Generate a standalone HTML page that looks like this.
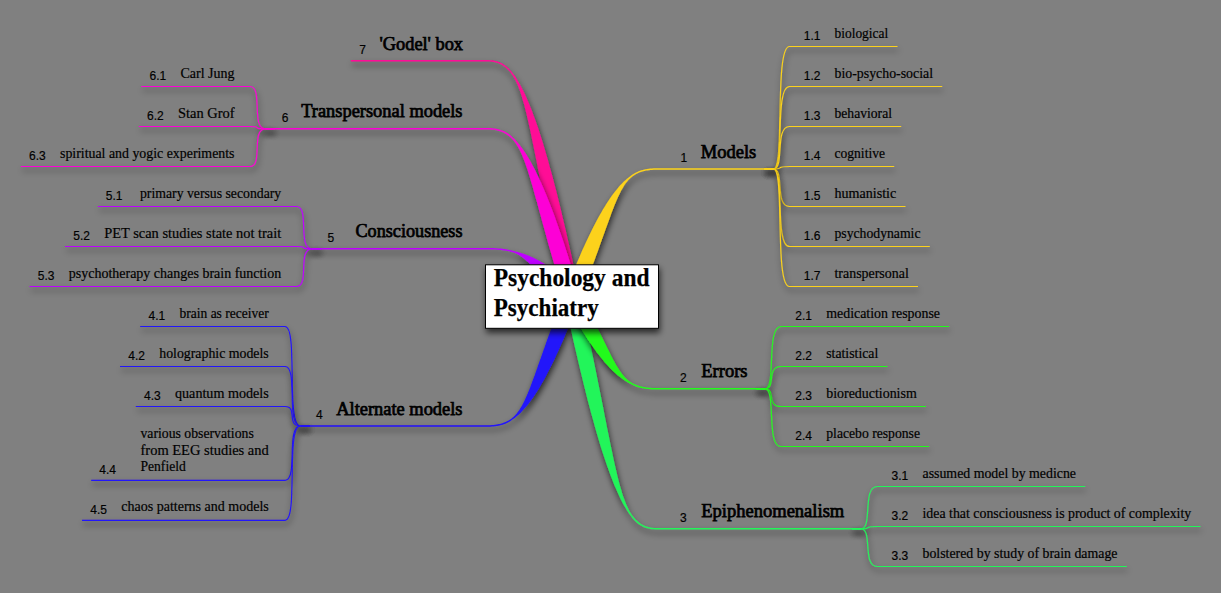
<!DOCTYPE html>
<html lang="en"><head><meta charset="utf-8"><title>Psychology and Psychiatry</title>
<style>
html,body{margin:0;padding:0;background:#808080;}
body{width:1221px;height:593px;overflow:hidden;position:relative;}
svg{position:absolute;left:0;top:0;display:block;}
text{fill:#000;}
.s{font-family:"Liberation Serif",serif;font-size:14.5px;stroke:#000;stroke-width:.2px;}
.m{font-family:"Liberation Serif",serif;font-size:19px;stroke:#000;stroke-width:.75px;}
.n{font-family:"Liberation Sans",sans-serif;font-size:12px;stroke:#000;stroke-width:.18px;}
.c{font-family:"Liberation Serif",serif;font-size:25.5px;font-weight:bold;stroke:#000;stroke-width:.25px;}
.b path{fill:none;stroke-width:1.15;stroke-linecap:butt;}
</style></head><body>
<svg width="1221" height="593" viewBox="0 0 1221 593">
<defs>
<filter id="sh" x="-20%" y="-20%" width="140%" height="140%" filterUnits="objectBoundingBox">
<feGaussianBlur in="SourceAlpha" stdDeviation="3"/><feOffset dx="1.3" dy="4" result="b"/>
<feComponentTransfer><feFuncA type="linear" slope="0.68"/></feComponentTransfer>
<feMerge><feMergeNode/><feMergeNode in="SourceGraphic"/></feMerge></filter>
<filter id="shl" x="-50" y="-50" width="1400" height="700" filterUnits="userSpaceOnUse">
<feGaussianBlur in="SourceAlpha" stdDeviation="3"/><feOffset dx="1.3" dy="4" result="b"/>
<feComponentTransfer><feFuncA type="linear" slope="0.68"/></feComponentTransfer>
<feMerge><feMergeNode/><feMergeNode in="SourceGraphic"/></feMerge></filter>
</defs>
<g class="b" stroke="#FD05D6">
<path filter="url(#shl)" d="M274.5,128.8 L265.5,128.8 C250.5,128.8 263.5,86.5 250.0,86.5 L141.2,86.5"/>
<path filter="url(#shl)" d="M274.5,128.8 L265.5,128.8 C250.5,128.8 263.5,126.5 250.0,126.5 L138.8,126.5"/>
<path filter="url(#shl)" d="M274.5,128.8 L265.5,128.8 C250.5,128.8 263.5,166.5 250.0,166.5 L20.8,166.5"/>
</g>
<g class="b" stroke="#BE00FF">
<path filter="url(#shl)" d="M321.0,248.8 L312.0,248.8 C297.0,248.8 310.0,206.5 296.5,206.5 L97.8,206.5"/>
<path filter="url(#shl)" d="M321.0,248.8 L312.0,248.8 C297.0,248.8 310.0,246.5 296.5,246.5 L65.0,246.5"/>
<path filter="url(#shl)" d="M321.0,248.8 L312.0,248.8 C297.0,248.8 310.0,286.5 296.5,286.5 L29.5,286.5"/>
</g>
<g class="b" stroke="#2314FA">
<path filter="url(#shl)" d="M309.5,426.0 L300.5,426.0 C285.5,426.0 298.5,326.5 285.0,326.5 L140.2,326.5"/>
<path filter="url(#shl)" d="M309.5,426.0 L300.5,426.0 C285.5,426.0 298.5,366.5 285.0,366.5 L120.0,366.5"/>
<path filter="url(#shl)" d="M309.5,426.0 L300.5,426.0 C285.5,426.0 298.5,406.5 285.0,406.5 L135.8,406.5"/>
<path filter="url(#shl)" d="M309.5,426.0 L300.5,426.0 C285.5,426.0 298.5,480.3 285.0,480.3 L91.2,480.3"/>
<path filter="url(#shl)" d="M309.5,426.0 L300.5,426.0 C285.5,426.0 298.5,520.3 285.0,520.3 L82.0,520.3"/>
</g>
<g class="b" stroke="#23F55A">
<path filter="url(#shl)" d="M852.2,528.8 L861.2,528.8 C872.8,528.8 862.0,486.5 877.2,486.5 L1085.2,486.5"/>
<path filter="url(#shl)" d="M852.2,528.8 L861.2,528.8 C872.8,528.8 862.0,526.5 877.2,526.5 L1200.5,526.5"/>
<path filter="url(#shl)" d="M852.2,528.8 L861.2,528.8 C872.8,528.8 862.0,566.5 877.2,566.5 L1126.8,566.5"/>
</g>
<g class="b" stroke="#23FA1E">
<path filter="url(#shl)" d="M756.0,388.8 L765.0,388.8 C776.5,388.8 765.7,326.5 781.0,326.5 L949.2,326.5"/>
<path filter="url(#shl)" d="M756.0,388.8 L765.0,388.8 C776.5,388.8 765.7,366.5 781.0,366.5 L887.5,366.5"/>
<path filter="url(#shl)" d="M756.0,388.8 L765.0,388.8 C776.5,388.8 765.7,406.5 781.0,406.5 L926.0,406.5"/>
<path filter="url(#shl)" d="M756.0,388.8 L765.0,388.8 C776.5,388.8 765.7,446.5 781.0,446.5 L929.2,446.5"/>
</g>
<g class="b" stroke="#FCD21A">
<path filter="url(#shl)" d="M764.5,169.0 L773.5,169.0 C785.0,169.0 774.2,46.5 789.5,46.5 L897.5,46.5"/>
<path filter="url(#shl)" d="M764.5,169.0 L773.5,169.0 C785.0,169.0 774.2,86.5 789.5,86.5 L942.2,86.5"/>
<path filter="url(#shl)" d="M764.5,169.0 L773.5,169.0 C785.0,169.0 774.2,126.5 789.5,126.5 L901.2,126.5"/>
<path filter="url(#shl)" d="M764.5,169.0 L773.5,169.0 C785.0,169.0 774.2,166.5 789.5,166.5 L894.2,166.5"/>
<path filter="url(#shl)" d="M764.5,169.0 L773.5,169.0 C785.0,169.0 774.2,206.5 789.5,206.5 L905.5,206.5"/>
<path filter="url(#shl)" d="M764.5,169.0 L773.5,169.0 C785.0,169.0 774.2,246.5 789.5,246.5 L929.8,246.5"/>
<path filter="url(#shl)" d="M764.5,169.0 L773.5,169.0 C785.0,169.0 774.2,286.5 789.5,286.5 L918.0,286.5"/>
</g>
<path filter="url(#shl)" fill="#FF0A96" d="M579.8,294.8 L577.7,284.8 L575.6,275.0 L573.6,265.5 L571.6,256.3 L569.6,247.4 L567.6,238.7 L565.7,230.3 L563.8,222.2 L561.9,214.3 L560.1,206.6 L558.3,199.3 L556.5,192.1 L554.7,185.2 L553.0,178.6 L551.2,172.1 L549.5,165.9 L547.9,160.0 L546.2,154.2 L544.6,148.7 L543.0,143.3 L541.4,138.2 L539.8,133.3 L538.3,128.6 L536.7,124.1 L535.2,119.8 L533.7,115.7 L532.3,111.7 L530.8,108.0 L529.4,104.4 L527.9,101.0 L526.5,97.8 L525.2,94.7 L523.8,91.8 L522.4,89.0 L521.1,86.5 L519.8,84.0 L518.4,81.7 L517.1,79.6 L515.9,77.5 L514.6,75.6 L513.3,73.9 L512.0,72.2 L510.8,70.7 L509.5,69.2 L508.2,67.9 L506.9,66.7 L505.5,65.7 L504.1,64.7 L502.7,63.8 L501.3,63.0 L499.9,62.4 L498.4,61.8 L496.8,61.3 L495.3,60.9 L493.7,60.6 L492.1,60.3 L490.4,60.2 L488.7,60.1 L487.0,60.0 L350.8,60.0 L350.8,61.5 L487.0,61.5 L488.7,61.5 L490.3,61.6 L491.9,61.8 L493.5,62.0 L495.0,62.3 L496.4,62.7 L497.9,63.1 L499.3,63.7 L500.7,64.3 L502.0,65.1 L503.3,65.9 L504.6,66.8 L505.9,67.8 L507.2,69.0 L508.4,70.2 L509.7,71.6 L510.9,73.1 L512.1,74.7 L513.2,76.5 L514.4,78.4 L515.5,80.5 L516.5,82.7 L517.6,85.1 L518.6,87.6 L519.6,90.3 L520.6,93.1 L521.6,96.1 L522.5,99.2 L523.5,102.6 L524.5,106.1 L525.4,109.7 L526.4,113.6 L527.3,117.6 L528.3,121.8 L529.3,126.2 L530.3,130.8 L531.3,135.6 L532.3,140.6 L533.4,145.8 L534.5,151.2 L535.6,156.8 L536.8,162.6 L537.9,168.7 L539.2,174.9 L540.4,181.4 L541.7,188.2 L543.1,195.1 L544.5,202.3 L546.0,209.8 L547.5,217.4 L549.1,225.4 L550.7,233.5 L552.4,242.0 L554.2,250.7 L556.0,259.6 L558.0,268.9 L560.0,278.3 L562.0,288.1 L564.2,298.2Z"/>
<path filter="url(#shl)" fill="#FD05D6" d="M579.7,294.2 L577.5,287.1 L575.5,280.1 L573.4,273.4 L571.4,266.8 L569.4,260.5 L567.5,254.3 L565.5,248.3 L563.7,242.5 L561.8,236.9 L559.9,231.5 L558.1,226.3 L556.3,221.2 L554.6,216.3 L552.8,211.6 L551.1,207.1 L549.4,202.7 L547.7,198.5 L546.1,194.4 L544.4,190.5 L542.8,186.7 L541.2,183.1 L539.7,179.7 L538.1,176.3 L536.6,173.2 L535.1,170.1 L533.6,167.2 L532.1,164.4 L530.7,161.8 L529.2,159.3 L527.8,156.9 L526.4,154.6 L525.0,152.5 L523.7,150.4 L522.3,148.5 L521.0,146.7 L519.7,145.0 L518.4,143.4 L517.1,141.9 L515.8,140.5 L514.5,139.1 L513.2,137.9 L512.0,136.7 L510.7,135.6 L509.4,134.6 L508.1,133.6 L506.8,132.8 L505.4,132.0 L504.1,131.3 L502.7,130.7 L501.2,130.2 L499.8,129.7 L498.3,129.3 L496.8,128.9 L495.2,128.6 L493.7,128.4 L492.1,128.2 L490.4,128.1 L488.7,128.0 L487.0,128.0 L265.5,128.0 L265.5,129.5 L487.0,129.5 L488.7,129.5 L490.3,129.6 L491.9,129.7 L493.5,129.8 L495.0,130.1 L496.5,130.3 L497.9,130.7 L499.4,131.1 L500.7,131.5 L502.1,132.0 L503.4,132.6 L504.7,133.3 L506.0,134.0 L507.3,134.8 L508.5,135.7 L509.8,136.7 L511.0,137.8 L512.2,138.9 L513.3,140.2 L514.4,141.6 L515.5,143.1 L516.6,144.7 L517.7,146.4 L518.7,148.2 L519.7,150.1 L520.7,152.2 L521.7,154.3 L522.6,156.6 L523.6,159.0 L524.6,161.5 L525.5,164.1 L526.5,166.9 L527.5,169.8 L528.4,172.8 L529.4,176.0 L530.4,179.3 L531.4,182.7 L532.5,186.3 L533.5,190.0 L534.6,193.9 L535.7,197.9 L536.9,202.1 L538.1,206.4 L539.3,210.9 L540.6,215.6 L541.9,220.4 L543.3,225.4 L544.7,230.5 L546.1,235.8 L547.6,241.3 L549.2,246.9 L550.9,252.8 L552.6,258.8 L554.4,265.0 L556.2,271.4 L558.1,277.9 L560.1,284.7 L562.2,291.6 L564.3,298.8Z"/>
<path filter="url(#shl)" fill="#BE00FF" d="M577.5,290.7 L575.4,288.7 L573.3,286.7 L571.3,284.8 L569.3,282.9 L567.3,281.2 L565.4,279.5 L563.5,277.8 L561.6,276.2 L559.7,274.7 L557.9,273.3 L556.1,271.9 L554.4,270.6 L552.6,269.3 L550.9,268.1 L549.3,266.9 L547.6,265.8 L546.0,264.8 L544.4,263.7 L542.8,262.8 L541.3,261.9 L539.7,261.0 L538.2,260.2 L536.7,259.4 L535.3,258.7 L533.8,258.0 L532.4,257.3 L531.0,256.7 L529.6,256.1 L528.2,255.5 L526.9,255.0 L525.6,254.5 L524.2,254.1 L522.9,253.6 L521.7,253.2 L520.4,252.8 L519.1,252.4 L517.9,252.1 L516.6,251.7 L515.4,251.4 L514.1,251.1 L512.9,250.8 L511.6,250.5 L510.4,250.1 L509.1,249.9 L507.8,249.6 L506.5,249.4 L505.2,249.1 L503.8,248.9 L502.5,248.8 L501.1,248.6 L499.6,248.5 L498.2,248.4 L496.7,248.3 L495.2,248.2 L493.6,248.1 L492.0,248.1 L490.4,248.1 L488.7,248.0 L487.0,248.0 L312.0,248.0 L312.0,249.5 L487.0,249.5 L488.7,249.5 L490.4,249.5 L492.0,249.5 L493.6,249.6 L495.1,249.6 L496.6,249.7 L498.1,249.8 L499.5,249.9 L500.9,250.1 L502.3,250.2 L503.6,250.4 L505.0,250.6 L506.3,250.8 L507.6,251.0 L508.8,251.3 L510.1,251.6 L511.3,251.9 L512.5,252.2 L513.7,252.6 L514.8,253.1 L516.0,253.6 L517.1,254.1 L518.2,254.7 L519.3,255.3 L520.4,256.0 L521.4,256.7 L522.5,257.5 L523.5,258.3 L524.5,259.1 L525.6,260.0 L526.6,260.9 L527.6,261.8 L528.7,262.8 L529.7,263.9 L530.8,264.9 L531.8,266.0 L532.9,267.2 L534.0,268.4 L535.1,269.6 L536.3,270.8 L537.4,272.1 L538.6,273.5 L539.9,274.9 L541.1,276.3 L542.4,277.7 L543.8,279.2 L545.2,280.8 L546.6,282.3 L548.1,283.9 L549.7,285.6 L551.3,287.3 L553.0,289.0 L554.7,290.8 L556.5,292.6 L558.3,294.5 L560.3,296.3 L562.3,298.3 L564.3,300.3 L566.5,302.3Z"/>
<path filter="url(#shl)" fill="#2314FA" d="M564.5,293.6 L562.4,299.1 L560.3,304.5 L558.3,309.7 L556.4,314.8 L554.6,319.7 L552.8,324.5 L551.1,329.2 L549.4,333.7 L547.8,338.1 L546.3,342.3 L544.9,346.4 L543.4,350.4 L542.1,354.3 L540.8,358.0 L539.5,361.6 L538.3,365.1 L537.1,368.5 L535.9,371.7 L534.8,374.9 L533.7,377.9 L532.6,380.8 L531.6,383.6 L530.6,386.3 L529.6,388.9 L528.6,391.3 L527.6,393.7 L526.6,396.0 L525.7,398.1 L524.7,400.2 L523.7,402.2 L522.8,404.1 L521.8,405.9 L520.8,407.6 L519.8,409.2 L518.8,410.7 L517.8,412.1 L516.7,413.5 L515.6,414.7 L514.5,415.9 L513.4,417.0 L512.2,418.0 L511.0,418.9 L509.8,419.7 L508.6,420.4 L507.4,421.1 L506.1,421.8 L504.8,422.3 L503.5,422.8 L502.2,423.3 L500.8,423.7 L499.4,424.0 L498.0,424.3 L496.5,424.6 L495.0,424.8 L493.5,425.0 L491.9,425.1 L490.3,425.2 L488.7,425.3 L487.0,425.3 L300.5,425.3 L300.5,426.7 L487.0,426.7 L488.7,426.7 L490.4,426.7 L492.0,426.6 L493.7,426.4 L495.2,426.3 L496.8,426.0 L498.3,425.8 L499.7,425.5 L501.2,425.1 L502.6,424.7 L504.0,424.2 L505.4,423.7 L506.7,423.1 L508.0,422.4 L509.3,421.7 L510.6,420.9 L511.9,420.1 L513.1,419.1 L514.4,418.2 L515.7,417.2 L517.0,416.1 L518.3,415.0 L519.6,413.7 L520.9,412.4 L522.2,411.1 L523.6,409.6 L524.9,408.1 L526.3,406.5 L527.7,404.7 L529.1,402.9 L530.5,401.0 L532.0,399.0 L533.5,396.9 L534.9,394.7 L536.4,392.4 L538.0,390.0 L539.5,387.4 L541.1,384.8 L542.7,382.0 L544.3,379.2 L545.9,376.2 L547.5,373.1 L549.2,369.8 L550.9,366.5 L552.6,363.0 L554.4,359.4 L556.1,355.6 L557.9,351.7 L559.7,347.7 L561.6,343.5 L563.5,339.2 L565.3,334.8 L567.3,330.2 L569.2,325.4 L571.2,320.5 L573.2,315.5 L575.3,310.3 L577.3,304.9 L579.5,299.4Z"/>
<path filter="url(#shl)" fill="#23F55A" d="M564.2,298.2 L566.3,308.1 L568.4,317.7 L570.4,327.1 L572.4,336.1 L574.4,344.9 L576.4,353.5 L578.3,361.8 L580.2,369.8 L582.1,377.5 L583.9,385.1 L585.7,392.3 L587.5,399.4 L589.3,406.2 L591.0,412.7 L592.8,419.1 L594.5,425.2 L596.1,431.1 L597.8,436.7 L599.4,442.2 L601.0,447.4 L602.6,452.5 L604.2,457.3 L605.8,461.9 L607.3,466.4 L608.8,470.6 L610.3,474.7 L611.8,478.6 L613.2,482.3 L614.6,485.8 L616.1,489.1 L617.5,492.3 L618.9,495.3 L620.2,498.2 L621.6,500.9 L622.9,503.4 L624.2,505.8 L625.6,508.1 L626.9,510.2 L628.2,512.2 L629.4,514.1 L630.7,515.8 L632.0,517.5 L633.2,519.0 L634.5,520.4 L635.8,521.7 L637.1,522.9 L638.5,523.9 L639.9,524.9 L641.3,525.8 L642.7,526.5 L644.1,527.2 L645.6,527.7 L647.2,528.2 L648.7,528.6 L650.3,528.9 L651.9,529.2 L653.6,529.3 L655.3,529.4 L657.0,529.5 L861.2,529.5 L861.2,528.0 L657.0,528.0 L655.3,528.0 L653.7,527.9 L652.1,527.7 L650.5,527.5 L649.0,527.2 L647.6,526.8 L646.1,526.4 L644.7,525.8 L643.3,525.2 L642.0,524.5 L640.7,523.7 L639.4,522.8 L638.1,521.8 L636.8,520.6 L635.6,519.4 L634.3,518.0 L633.1,516.6 L631.9,515.0 L630.8,513.2 L629.6,511.3 L628.5,509.3 L627.5,507.1 L626.4,504.8 L625.4,502.3 L624.4,499.6 L623.4,496.9 L622.4,493.9 L621.5,490.8 L620.5,487.5 L619.5,484.1 L618.6,480.5 L617.6,476.7 L616.7,472.7 L615.7,468.6 L614.7,464.2 L613.7,459.7 L612.7,455.0 L611.7,450.1 L610.6,445.0 L609.5,439.6 L608.4,434.1 L607.2,428.4 L606.1,422.4 L604.8,416.2 L603.6,409.8 L602.3,403.2 L600.9,396.3 L599.5,389.2 L598.0,381.9 L596.5,374.3 L594.9,366.5 L593.3,358.5 L591.6,350.2 L589.8,341.6 L588.0,332.8 L586.0,323.7 L584.0,314.3 L582.0,304.7 L579.8,294.8Z"/>
<path filter="url(#shl)" fill="#23FA1E" d="M565.0,300.3 L567.1,304.2 L569.2,308.1 L571.2,311.8 L573.2,315.4 L575.2,318.9 L577.2,322.2 L579.1,325.5 L581.0,328.6 L582.8,331.7 L584.7,334.6 L586.5,337.4 L588.3,340.2 L590.0,342.8 L591.8,345.3 L593.5,347.8 L595.2,350.1 L596.8,352.4 L598.5,354.6 L600.1,356.6 L601.7,358.6 L603.3,360.6 L604.8,362.4 L606.3,364.1 L607.9,365.8 L609.4,367.4 L610.8,368.9 L612.3,370.4 L613.7,371.7 L615.1,373.0 L616.5,374.3 L617.9,375.4 L619.3,376.5 L620.6,377.6 L622.0,378.6 L623.3,379.5 L624.6,380.4 L625.9,381.2 L627.1,382.0 L628.4,382.7 L629.7,383.4 L630.9,384.1 L632.2,384.7 L633.5,385.3 L634.8,385.9 L636.1,386.4 L637.4,386.9 L638.7,387.3 L640.1,387.7 L641.5,388.0 L642.9,388.3 L644.3,388.6 L645.8,388.8 L647.3,389.0 L648.8,389.1 L650.4,389.3 L652.0,389.4 L653.6,389.4 L655.3,389.5 L657.0,389.5 L765.0,389.5 L765.0,388.0 L657.0,388.0 L655.3,388.0 L653.7,388.0 L652.0,387.9 L650.5,387.8 L648.9,387.7 L647.4,387.5 L646.0,387.4 L644.5,387.1 L643.1,386.9 L641.8,386.6 L640.4,386.3 L639.1,385.9 L637.8,385.5 L636.6,385.1 L635.3,384.6 L634.1,384.0 L632.9,383.4 L631.7,382.8 L630.5,382.1 L629.4,381.3 L628.3,380.4 L627.2,379.5 L626.1,378.5 L625.1,377.4 L624.0,376.3 L623.0,375.1 L622.0,373.8 L621.0,372.5 L620.0,371.1 L619.1,369.7 L618.1,368.1 L617.1,366.5 L616.1,364.9 L615.1,363.1 L614.1,361.3 L613.1,359.4 L612.1,357.4 L611.0,355.4 L610.0,353.3 L608.9,351.1 L607.7,348.8 L606.6,346.4 L605.4,344.0 L604.1,341.5 L602.8,338.8 L601.5,336.1 L600.2,333.3 L598.7,330.5 L597.3,327.5 L595.7,324.4 L594.2,321.3 L592.5,318.1 L590.8,314.7 L589.0,311.3 L587.2,307.8 L585.2,304.2 L583.2,300.4 L581.2,296.6 L579.0,292.7Z"/>
<path filter="url(#shl)" fill="#FCD21A" d="M579.4,299.4 L581.6,294.0 L583.7,288.7 L585.7,283.6 L587.6,278.6 L589.4,273.7 L591.2,269.0 L592.9,264.4 L594.6,260.0 L596.1,255.7 L597.7,251.5 L599.1,247.4 L600.5,243.5 L601.9,239.7 L603.2,236.0 L604.5,232.4 L605.7,229.0 L606.9,225.7 L608.1,222.5 L609.2,219.4 L610.3,216.4 L611.3,213.6 L612.4,210.8 L613.4,208.2 L614.4,205.6 L615.4,203.2 L616.4,200.8 L617.4,198.6 L618.3,196.5 L619.3,194.4 L620.3,192.5 L621.2,190.6 L622.2,188.9 L623.2,187.2 L624.2,185.6 L625.2,184.1 L626.2,182.7 L627.3,181.4 L628.4,180.1 L629.5,179.0 L630.6,177.9 L631.8,176.9 L633.0,176.0 L634.2,175.2 L635.4,174.5 L636.6,173.8 L637.9,173.2 L639.2,172.6 L640.5,172.1 L641.8,171.7 L643.2,171.3 L644.6,170.9 L646.0,170.6 L647.5,170.4 L649.0,170.2 L650.5,170.0 L652.1,169.9 L653.7,169.8 L655.3,169.7 L657.0,169.7 L773.5,169.7 L773.5,168.3 L657.0,168.3 L655.3,168.3 L653.6,168.3 L652.0,168.4 L650.3,168.6 L648.8,168.7 L647.2,169.0 L645.7,169.2 L644.3,169.5 L642.8,169.9 L641.4,170.3 L640.0,170.8 L638.6,171.3 L637.3,171.9 L636.0,172.5 L634.7,173.2 L633.4,174.0 L632.1,174.8 L630.9,175.7 L629.6,176.7 L628.3,177.7 L627.0,178.7 L625.7,179.9 L624.4,181.1 L623.1,182.3 L621.8,183.7 L620.4,185.1 L619.1,186.6 L617.7,188.2 L616.3,189.9 L614.9,191.7 L613.5,193.6 L612.0,195.5 L610.6,197.6 L609.1,199.8 L607.6,202.0 L606.0,204.4 L604.5,206.9 L602.9,209.5 L601.4,212.2 L599.8,215.1 L598.1,218.0 L596.5,221.1 L594.8,224.2 L593.1,227.5 L591.4,231.0 L589.7,234.5 L587.9,238.2 L586.1,242.1 L584.3,246.0 L582.4,250.1 L580.6,254.3 L578.7,258.7 L576.7,263.3 L574.8,267.9 L572.8,272.8 L570.8,277.7 L568.8,282.9 L566.7,288.1 L564.6,293.6Z"/>
<rect filter="url(#shl)" x="485.5" y="264.8" width="173.0" height="63.5" fill="#fff" stroke="#000" stroke-width="1"/>
<text class="c" x="493.75" y="285.5" textLength="155.75" lengthAdjust="spacingAndGlyphs">Psychology and</text>
<text class="c" x="493.75" y="315.5" textLength="105" lengthAdjust="spacingAndGlyphs">Psychiatry</text>
<text class="m" x="700.75" y="157.50" textLength="55.50" lengthAdjust="spacingAndGlyphs">Models</text>
<text class="n" x="680.50" y="161.80">1</text>
<text class="m" x="701.25" y="377.25" textLength="46.25" lengthAdjust="spacingAndGlyphs">Errors</text>
<text class="n" x="680.00" y="381.55">2</text>
<text class="m" x="701.25" y="517.25" textLength="143.00" lengthAdjust="spacingAndGlyphs">Epiphenomenalism</text>
<text class="n" x="680.00" y="521.55">3</text>
<text class="m" x="336.25" y="414.50" textLength="126.25" lengthAdjust="spacingAndGlyphs">Alternate models</text>
<text class="n" x="316.00" y="418.80">4</text>
<text class="m" x="355.50" y="237.25" textLength="107.00" lengthAdjust="spacingAndGlyphs">Consciousness</text>
<text class="n" x="327.50" y="241.55">5</text>
<text class="m" x="301.25" y="117.25" textLength="161.25" lengthAdjust="spacingAndGlyphs">Transpersonal models</text>
<text class="n" x="281.75" y="121.55">6</text>
<text class="m" x="379.50" y="50.05" textLength="83.50" lengthAdjust="spacingAndGlyphs">'Godel' box</text>
<text class="n" x="359.25" y="54.35">7</text>
<text class="s" x="834.50" y="37.60" textLength="53.75" lengthAdjust="spacingAndGlyphs">biological</text>
<text class="n" x="803.80" y="40.00">1.1</text>
<text class="s" x="834.50" y="77.60" textLength="98.50" lengthAdjust="spacingAndGlyphs">bio-psycho-social</text>
<text class="n" x="803.80" y="80.00">1.2</text>
<text class="s" x="834.50" y="117.60" textLength="57.50" lengthAdjust="spacingAndGlyphs">behavioral</text>
<text class="n" x="803.80" y="120.00">1.3</text>
<text class="s" x="834.50" y="157.60" textLength="50.50" lengthAdjust="spacingAndGlyphs">cognitive</text>
<text class="n" x="803.80" y="160.00">1.4</text>
<text class="s" x="834.50" y="197.60" textLength="61.75" lengthAdjust="spacingAndGlyphs">humanistic</text>
<text class="n" x="803.80" y="200.00">1.5</text>
<text class="s" x="834.50" y="237.60" textLength="86.00" lengthAdjust="spacingAndGlyphs">psychodynamic</text>
<text class="n" x="803.80" y="240.00">1.6</text>
<text class="s" x="834.50" y="277.60" textLength="74.25" lengthAdjust="spacingAndGlyphs">transpersonal</text>
<text class="n" x="803.80" y="280.00">1.7</text>
<text class="s" x="826.25" y="317.60" textLength="113.75" lengthAdjust="spacingAndGlyphs">medication response</text>
<text class="n" x="795.30" y="320.00">2.1</text>
<text class="s" x="826.25" y="357.60" textLength="52.00" lengthAdjust="spacingAndGlyphs">statistical</text>
<text class="n" x="795.30" y="360.00">2.2</text>
<text class="s" x="826.25" y="397.60" textLength="90.50" lengthAdjust="spacingAndGlyphs">bioreductionism</text>
<text class="n" x="795.30" y="400.00">2.3</text>
<text class="s" x="826.25" y="437.60" textLength="93.75" lengthAdjust="spacingAndGlyphs">placebo response</text>
<text class="n" x="795.30" y="440.00">2.4</text>
<text class="s" x="922.50" y="477.60" textLength="153.50" lengthAdjust="spacingAndGlyphs">assumed model by medicne</text>
<text class="n" x="891.55" y="480.00">3.1</text>
<text class="s" x="922.50" y="517.60" textLength="268.75" lengthAdjust="spacingAndGlyphs">idea that consciousness is product of complexity</text>
<text class="n" x="891.55" y="520.00">3.2</text>
<text class="s" x="922.50" y="557.60" textLength="195.00" lengthAdjust="spacingAndGlyphs">bolstered by study of brain damage</text>
<text class="n" x="891.55" y="560.00">3.3</text>
<text class="s" x="179.50" y="317.60" textLength="89.25" lengthAdjust="spacingAndGlyphs">brain as receiver</text>
<text class="n" x="148.60" y="320.00">4.1</text>
<text class="s" x="159.25" y="357.60" textLength="109.50" lengthAdjust="spacingAndGlyphs">holographic models</text>
<text class="n" x="128.35" y="360.00">4.2</text>
<text class="s" x="175.00" y="397.60" textLength="93.75" lengthAdjust="spacingAndGlyphs">quantum models</text>
<text class="n" x="144.10" y="400.00">4.3</text>
<text class="s" x="140.50" y="437.60" textLength="113.25" lengthAdjust="spacingAndGlyphs">various observations</text>
<text class="s" x="140.50" y="454.50" textLength="128.25" lengthAdjust="spacingAndGlyphs">from EEG studies and</text>
<text class="s" x="140.50" y="471.40" textLength="45.25" lengthAdjust="spacingAndGlyphs">Penfield</text>
<text class="n" x="99.25" y="473.80">4.4</text>
<text class="s" x="121.25" y="511.40" textLength="147.50" lengthAdjust="spacingAndGlyphs">chaos patterns and models</text>
<text class="n" x="90.35" y="513.80">4.5</text>
<text class="s" x="140.00" y="197.60" textLength="141.25" lengthAdjust="spacingAndGlyphs">primary versus secondary</text>
<text class="n" x="105.75" y="200.00">5.1</text>
<text class="s" x="104.25" y="237.60" textLength="177.00" lengthAdjust="spacingAndGlyphs">PET scan studies state not trait</text>
<text class="n" x="73.35" y="240.00">5.2</text>
<text class="s" x="68.75" y="277.60" textLength="212.50" lengthAdjust="spacingAndGlyphs">psychotherapy changes brain function</text>
<text class="n" x="37.85" y="280.00">5.3</text>
<text class="s" x="180.50" y="77.60" textLength="54.00" lengthAdjust="spacingAndGlyphs">Carl Jung</text>
<text class="n" x="149.60" y="80.00">6.1</text>
<text class="s" x="178.00" y="117.60" textLength="56.50" lengthAdjust="spacingAndGlyphs">Stan Grof</text>
<text class="n" x="147.10" y="120.00">6.2</text>
<text class="s" x="60.00" y="157.60" textLength="174.50" lengthAdjust="spacingAndGlyphs">spiritual and yogic experiments</text>
<text class="n" x="29.10" y="160.00">6.3</text>
</svg></body></html>
